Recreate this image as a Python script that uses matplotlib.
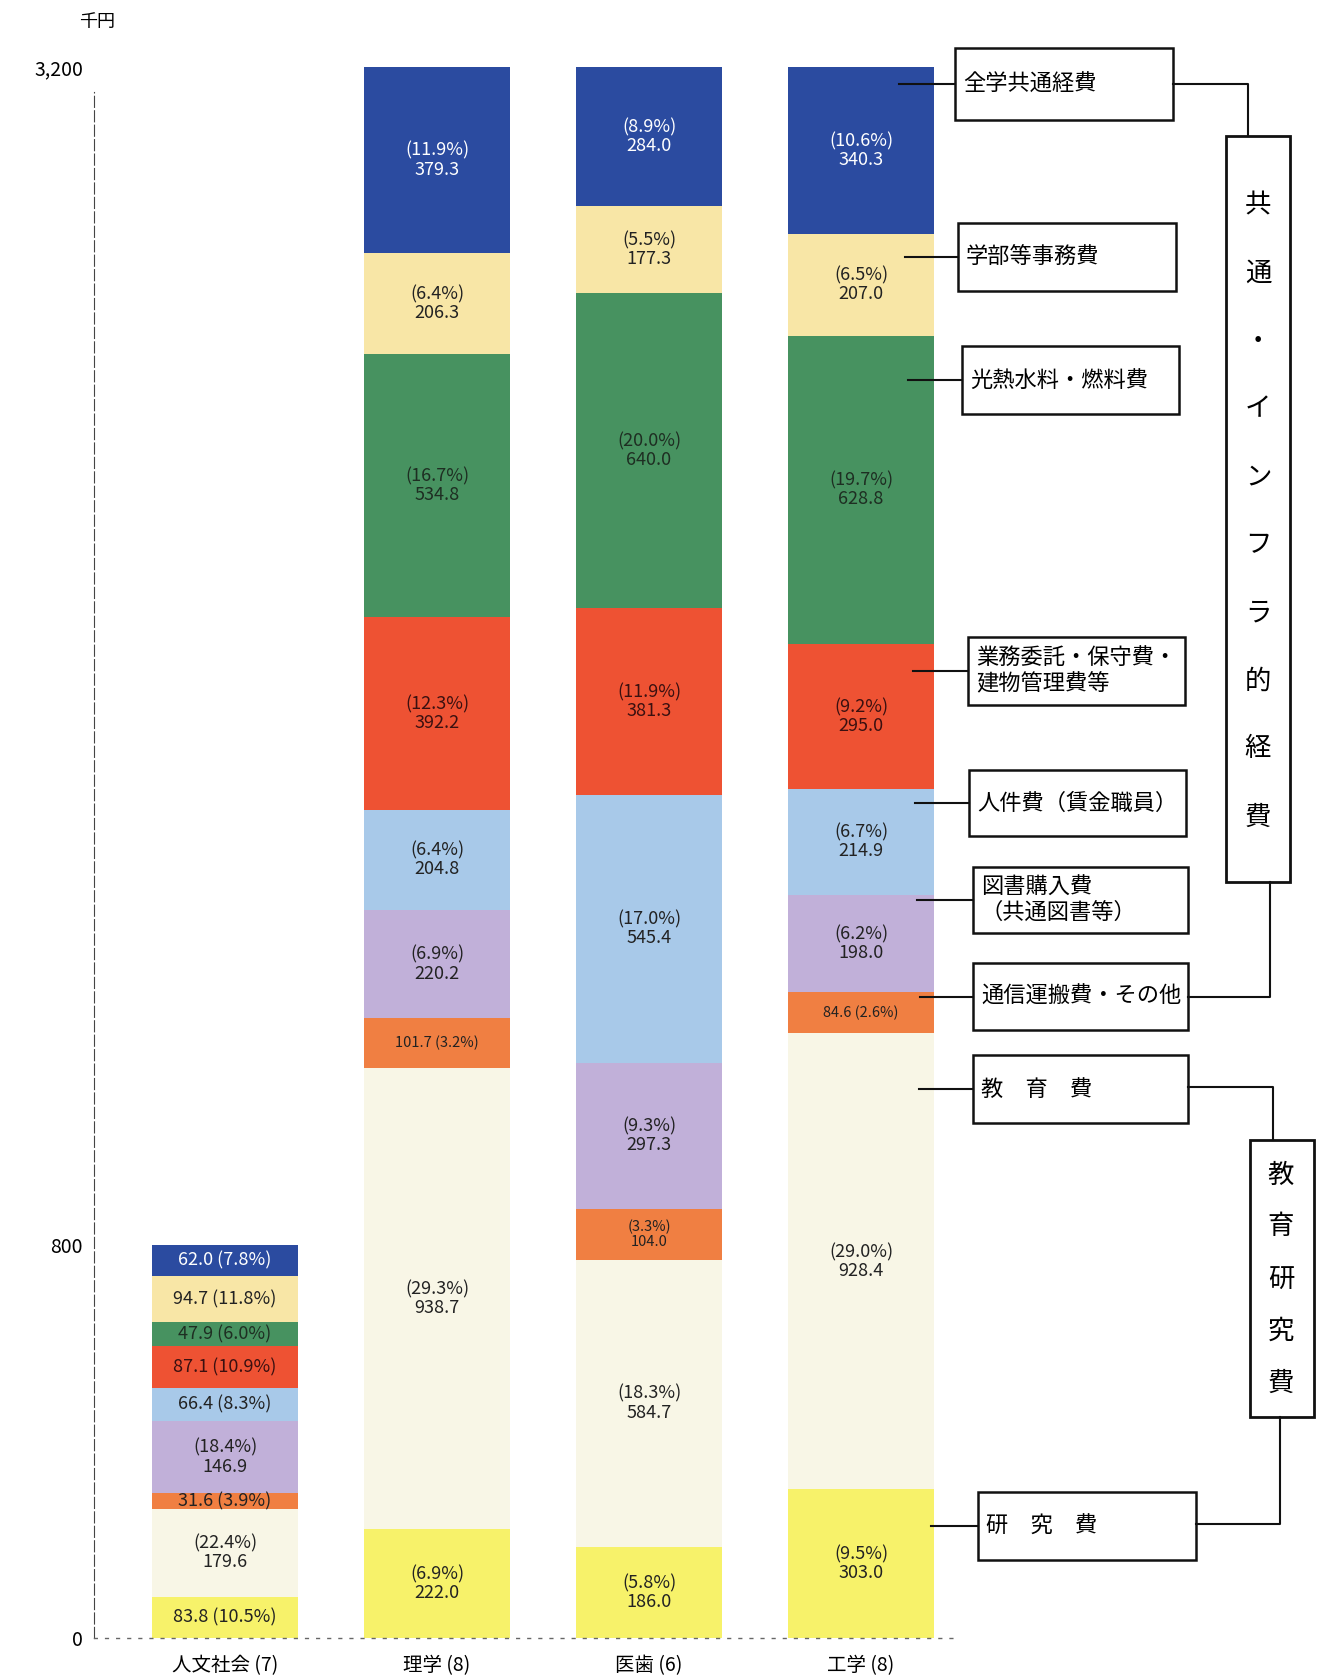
import matplotlib.pyplot as plt
import matplotlib.patches as mpatches
from matplotlib.lines import Line2D
import numpy as np

plt.rcParams['font.family'] = ['Noto Sans CJK JP', 'DejaVu Sans']

# categories (number of departments in brackets)
categories = ['人文社会 (7)', '理学 (8)', '医歯 (6)', '工学 (8)']

# values in thousand yen, bottom to top of each bar
research = [83.8, 222.0, 186.0, 303.0]
research_pct = [10.5, 6.9, 5.8, 9.5]
education = [179.6, 938.7, 584.7, 928.4]
education_pct = [22.4, 29.3, 18.3, 29.0]
comm = [31.6, 101.7, 104.0, 84.6]
comm_pct = [3.9, 3.2, 3.3, 2.6]
books = [146.9, 220.2, 297.3, 198.0]
books_pct = [18.4, 6.9, 9.3, 6.2]
staff = [66.4, 204.8, 545.4, 214.9]
staff_pct = [8.3, 6.4, 17.0, 6.7]
maint = [87.1, 392.2, 381.3, 295.0]
maint_pct = [10.9, 12.3, 11.9, 9.2]
utility = [47.9, 534.8, 640.0, 628.8]
utility_pct = [6.0, 16.7, 20.0, 19.7]
office = [94.7, 206.3, 177.3, 207.0]
office_pct = [11.8, 6.4, 5.5, 6.5]
common = [62.0, 379.3, 284.0, 340.3]
common_pct = [7.8, 11.9, 8.9, 10.6]

series = [research, education, comm, books, staff, maint, utility, office, common]
series_pct = [research_pct, education_pct, comm_pct, books_pct, staff_pct,
              maint_pct, utility_pct, office_pct, common_pct]
colors = ['#f7f26a', '#f8f6e6', '#f07f42', '#c1b0d9', '#a8c9e9',
          '#ee5233', '#479260', '#f8e6a6', '#2b4ba0']
text_colors = ['#222', '#222', '#222', '#222', '#222', '#3a1010', '#1e2e22', '#222', 'white']

W, H = 1319, 1680
fig = plt.figure(figsize=(W / 100, H / 100), dpi=100)
ax = fig.add_axes([94 / W, 42 / H, (960 - 94) / W, 1571 / H])

x = np.arange(len(categories))
totals = np.sum(series, axis=0)
bottom = np.zeros(len(categories))
for vals, pcts, c, tc in zip(series, series_pct, colors, text_colors):
    vals = np.array(vals)
    ax.bar(x, vals, bottom=bottom, width=0.685, color=c, edgecolor='none')
    for i, (v, p) in enumerate(zip(vals, pcts)):
        small = v < 110 and totals[i] > 1000
        fs = 10.5 if small else 13
        if v < 103:
            txt = f'{v:.1f} ({p:.1f}%)'
        else:
            txt = f'({p:.1f}%)\n{v:.1f}'
        ax.text(x[i], bottom[i] + v / 2, txt, ha='center', va='center',
                fontsize=fs, color=tc, linespacing=1.05)
    bottom += vals

ax.set_xlim(-0.618, 3.467)
ax.set_ylim(0, 3200)
ax.set_xticks(x)
ax.set_xticklabels(categories, fontsize=14)
ax.set_yticks([0, 800, 3200])
ax.set_yticklabels(['0', '800', '3,200'], fontsize=14)
ax.tick_params(length=0, pad=8)
ax.tick_params(axis='x', pad=12)
for s in ['top', 'right']:
    ax.spines[s].set_visible(False)
ax.spines['left'].set_linestyle((0, (10, 3)))
ax.spines['left'].set_linewidth(0.8)
ax.spines['left'].set_color('#444')
ax.spines['left'].set_bounds(0, 3150)
ax.spines['bottom'].set_linestyle((0, (2, 6)))
ax.spines['bottom'].set_linewidth(1.0)
ax.spines['bottom'].set_color('#666')
ax.patch.set_alpha(0)

fig.text(97 / W, 1 - 22 / H, '千円', ha='center', va='center', fontsize=13)


def fx(px):
    return px / W


def fy(py):
    return 1 - py / H


def box(x0, y0, x1, y1, lw=1.8):
    fig.patches.append(mpatches.Rectangle((fx(x0), fy(y1)), fx(x1) - fx(x0), fy(y0) - fy(y1),
                                          transform=fig.transFigure, fill=False,
                                          edgecolor='#111', linewidth=lw))


def line(xs, ys, lw=1.5):
    fig.lines.append(Line2D([fx(v) for v in xs], [fy(v) for v in ys],
                            transform=fig.transFigure, color='#111', linewidth=lw))


# label boxes: (text, x0, y0, x1, y1, lead line start x)
label_boxes = [
    ('全学共通経費', 955, 48, 1173, 120, 899),
    ('学部等事務費', 958, 223, 1176, 291, 905),
    ('光熱水料・燃料費', 962, 346, 1179, 414, 908),
    ('業務委託・保守費・\n建物管理費等', 968, 637, 1185, 705, 913),
    ('人件費（賃金職員）', 969, 770, 1186, 836, 915),
    ('図書購入費\n（共通図書等）', 973, 867, 1188, 933, 917),
    ('通信運搬費・その他', 973, 963, 1188, 1030, 920),
    ('教　育　費', 973, 1055, 1188, 1123, 919),
    ('研　究　費', 978, 1492, 1196, 1560, 931),
]
for txt, x0, y0, x1, y1, lx in label_boxes:
    box(x0, y0, x1, y1)
    yc = (y0 + y1) / 2
    line([lx, x0], [yc, yc])
    fig.text(fx(x0 + 8), fy(yc), txt, ha='left', va='center', fontsize=16, linespacing=1.1)

# group brackets
box(1226, 136, 1290, 882, lw=2)
for k, ch in enumerate('共通・インフラ的経費'):
    fig.text(fx(1258), fy(205 + 68 * k), ch, ha='center', va='center', fontsize=19)
line([1173, 1248, 1248], [84, 84, 136])
line([1188, 1270, 1270], [997, 997, 882])

box(1250, 1140, 1314, 1417, lw=2)
for k, ch in enumerate('教育研究費'):
    fig.text(fx(1281), fy(1175 + 52 * k), ch, ha='center', va='center', fontsize=19)
line([1188, 1273, 1273], [1087, 1087, 1140])
line([1196, 1280, 1280], [1524, 1524, 1417])

fig.savefig('out.png', dpi=100)
